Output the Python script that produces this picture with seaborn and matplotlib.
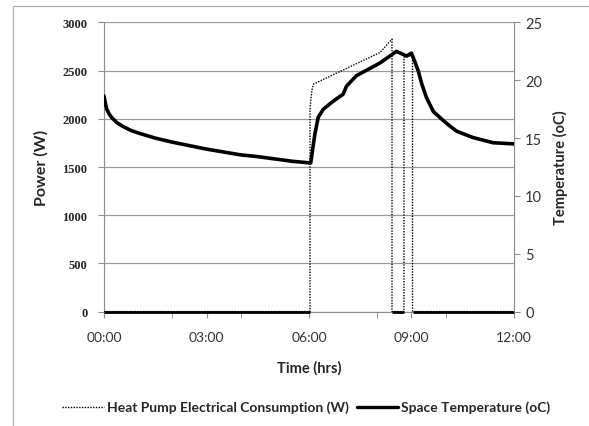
import numpy as np
import matplotlib
matplotlib.use("Agg")
import matplotlib.pyplot as plt
from matplotlib.lines import Line2D
from matplotlib.patches import Rectangle
import seaborn as sns

# dados (horas decimais)
horas_potencia = [0, 6.03, 6.03, 6.08, 6.13, 8.08, 8.43, 8.43, 8.78, 8.78, 9.03, 9.03, 12]
potencia = [0, 0, 2100, 2290, 2360, 2689, 2827, 0, 0, 2640, 2660, 0, 0]

horas_temp = [0, 0.04, 0.08, 0.15, 0.22, 0.37, 0.56, 0.8, 1.05, 1.5, 2.0, 2.5, 3.0,
              3.5, 4.0, 4.5, 5.0, 5.5, 6.05, 6.17, 6.27, 6.42, 6.71, 7.0, 7.1,
              7.39, 8.08, 8.56, 8.86, 9.0, 9.1, 9.2, 9.3, 9.44, 9.64, 9.9, 10.1,
              10.32, 10.8, 11.39, 12.0]
temperatura = [18.65, 18.0, 17.5, 17.1, 16.8, 16.35, 16.0, 15.65, 15.4, 15.0, 14.65, 14.35, 14.05,
               13.8, 13.55, 13.4, 13.2, 13.0, 12.85, 15.3, 16.8, 17.5, 18.2, 18.8, 19.5,
               20.4, 21.5, 22.5, 22.1, 22.35, 21.6, 20.8, 19.7, 18.5, 17.3, 16.6, 16.1,
               15.6, 15.05, 14.6, 14.5]

rotulos_x = ["00:00", "03:00", "06:00", "09:00", "12:00"]
nome_potencia = "Heat Pump Electrical Consumption (W)"
nome_temp = "Space Temperature (oC)"

sns.set_style("white")
plt.rcParams["font.family"] = ["Lato", "DejaVu Sans"]

fig = plt.figure(figsize=(5.89, 4.27), dpi=100)
ax = fig.add_axes([0.1766, 0.268, 0.696, 0.677])
ax2 = ax.twinx()

cinza = "#8c8c8c"

# grade horizontal
for v in range(0, 3001, 500):
    ax.axhline(v, color="#9a9a9a", lw=0.9, zorder=0)

# potencia (linha pontilhada)
sns.lineplot(x=horas_potencia, y=potencia, ax=ax, estimator=None, sort=False,
             color="black", lw=1.0, linestyle=(0, (1, 1)), zorder=3)
# trechos em zero aparecem mais grossos no original
p = np.array(potencia, dtype=float)
ax.plot(horas_potencia, np.where(p == 0, 0, np.nan), color="black", lw=2, zorder=4,
        solid_capstyle="butt", clip_on=False)

# temperatura (linha grossa)
sns.lineplot(x=horas_temp, y=temperatura, ax=ax2, estimator=None, sort=False,
             color="black", lw=2.6, zorder=5)

ax.set_xlim(0, 12)
ax.set_ylim(0, 3000)
ax2.set_ylim(0, 25)

ax.set_xticks([0, 3, 6, 9, 12])
ax.set_xticklabels(rotulos_x, fontsize=10, color="#333333")
ax.set_xticks([2, 4, 8, 10], minor=True)
ax.tick_params(axis="x", which="both", direction="out", length=4, color=cinza, pad=10,
               bottom=True)

ax.set_yticks(range(0, 3001, 500))
ax.set_yticklabels([str(v) for v in range(0, 3001, 500)], family="Liberation Serif",
                   fontweight="bold", fontsize=9)
ax.tick_params(axis="y", direction="out", length=4, color=cinza, pad=8, left=True)

ax2.set_yticks(range(0, 26, 5))
ax2.tick_params(axis="y", direction="out", length=4, color=cinza, pad=4, right=True,
                labelsize=10.5, labelcolor="#333333")

for a in (ax, ax2):
    for s in a.spines.values():
        s.set_visible(False)
ax.spines["left"].set_visible(True)
ax.spines["left"].set_color(cinza)
ax.spines["bottom"].set_visible(True)
ax.spines["bottom"].set_color(cinza)
ax2.spines["right"].set_visible(True)
ax2.spines["right"].set_color(cinza)

ax.set_xlabel("Time (hrs)", fontsize=10.5, fontweight="bold", labelpad=12)
ax.set_ylabel("Power (W)", fontsize=11.5, fontweight="bold", labelpad=10)
ax2.set_ylabel("Temperature (oC)", fontsize=10.5, fontweight="bold", labelpad=8)

# legenda abaixo do grafico
handles = [Line2D([], [], color="black", lw=1.0, linestyle=(0, (1, 1))),
           Line2D([], [], color="black", lw=2.4)]
fig.legend(handles, [nome_potencia, nome_temp], loc="lower center", ncol=2,
           bbox_to_anchor=(0.52, 0.0), frameon=False, handlelength=3,
           handletextpad=0.2, columnspacing=0.6, prop={"weight": "bold", "size": 10})

# moldura da area do grafico
fig.patches.append(Rectangle((13 / 589, -0.1), 1.2, 1 - 7 / 427 + 0.1,
                             transform=fig.transFigure, fill=False,
                             edgecolor="#b0b0b0", lw=0.9))

fig.savefig("out.png", dpi=100)
